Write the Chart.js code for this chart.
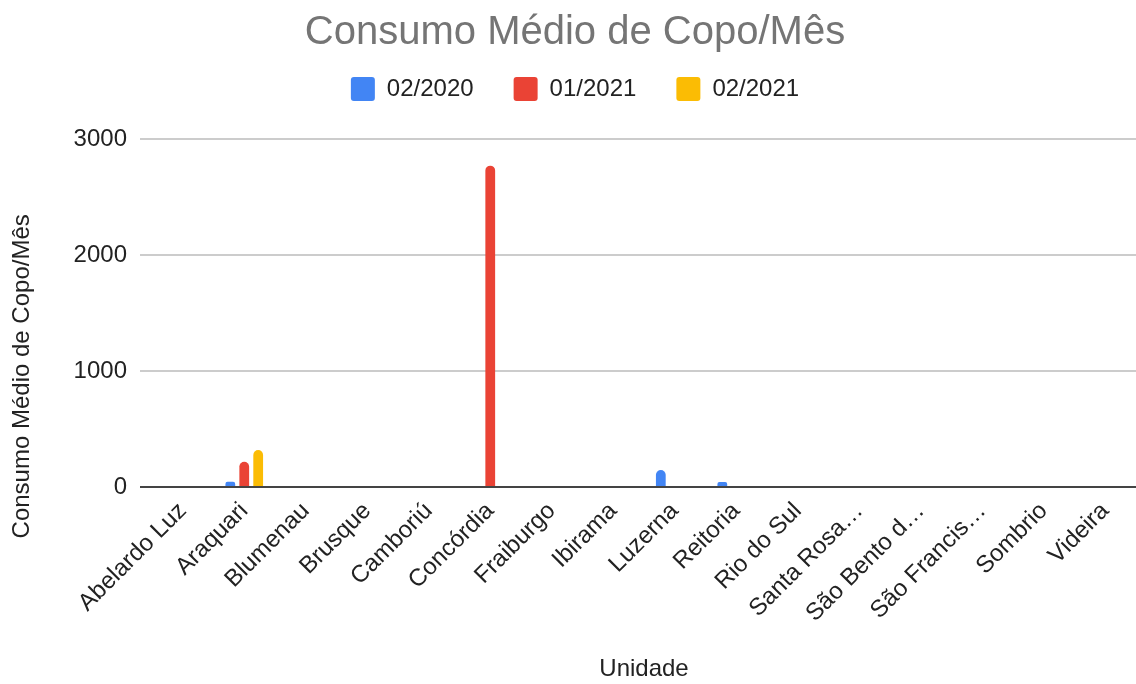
<!DOCTYPE html>
<html>
<head>
<meta charset="utf-8">
<script src="https://cdn.jsdelivr.net/npm/chart.js@4/dist/chart.umd.min.js"></script>
<style>
html,body{margin:0;padding:0;background:#fff;}
#wrap{width:1136px;height:684px;position:relative;}
</style>
</head>
<body>
<div id="wrap"><canvas id="c"></canvas></div>
<script>
const categories = ["Abelardo Luz","Araquari","Blumenau","Brusque","Camboriú","Concórdia","Fraiburgo","Ibirama","Luzerna","Reitoria","Rio do Sul","Santa Rosa…","São Bento d…","São Francis…","Sombrio","Videira"];
const seriesNames = ["02/2020","01/2021","02/2021"];
const values_02_2020 = [0, 45, 0, 0, 0, 0, 0, 0, 147, 43, 0, 0, 0, 0, 0, 0];
const values_01_2021 = [0, 218, 0, 0, 0, 2770, 0, 0, 0, 0, 0, 0, 0, 0, 0, 0];
const values_02_2021 = [0, 319, 0, 0, 0, 0, 0, 0, 0, 0, 0, 0, 0, 0, 0, 0];
const yTicks = [0, 1000, 2000, 3000];
const colors = ["#4285F4", "#EA4335", "#FBBC04"];

const FONT = "'Liberation Sans', Arial, sans-serif";
Chart.defaults.font.family = FONT;
Chart.defaults.color = "#222222";

const seriesValues = [values_02_2020, values_01_2021, values_02_2021];
const datasets = seriesNames.map((n, i) => ({
  label: n,
  data: seriesValues[i],
  backgroundColor: colors[i],
  borderRadius: {topLeft: 5, topRight: 5, bottomLeft: 0, bottomRight: 0},
  borderSkipped: 'bottom',
  categoryPercentage: 0.68,
  barPercentage: 0.7
}));

// trailing no-break spaces shift the centred vertical title toward the bottom, as in the reference
const yTitleText = "Consumo Médio de Copo/Mês" + "\u00A0".repeat(19);

new Chart(document.getElementById('c'), {
  type: 'bar',
  data: { labels: categories, datasets },
  options: {
    responsive: true,
    maintainAspectRatio: false,
    animation: false,
    layout: { padding: { left: 14, right: 0, top: 9, bottom: 0 } },
    plugins: {
      title: {
        display: true,
        text: "Consumo Médio de Copo/Mês",
        color: "#757575",
        font: { size: 40, weight: 'normal', family: FONT },
        padding: { top: 0, bottom: -20 }
      },
      subtitle: {
        display: true,
        text: " ",
        weight: 500,
        font: { size: 10 },
        padding: { top: 8, bottom: 8 }
      },
      legend: {
        display: true,
        position: 'top',
        labels: {
          boxWidth: 24, boxHeight: 24,
          useBorderRadius: true, borderRadius: 3,
          padding: 40,
          color: "#222222",
          font: { size: 24, family: FONT }
        }
      },
      tooltip: { enabled: false }
    },
    scales: {
      x: {
        afterFit: (s) => { s.height = 197; },
        grid: { display: false, drawTicks: false },
        border: { display: false },
        ticks: {
          minRotation: 45, maxRotation: 45,
          autoSkip: false,
          padding: 10,
          color: "#222222",
          font: { size: 24, family: FONT }
        },
        title: {
          display: true, text: "Unidade",
          color: "#222222",
          font: { size: 24, family: FONT },
          padding: { top: 0, bottom: 0 }
        }
      },
      y: {
        min: 0, max: 3000,
        afterFit: (s) => { s.width = 138; },
        afterBuildTicks: (s) => { s.ticks = yTicks.map(v => ({ value: v })); },
        grid: {
          color: (ctx) => ctx.tick && ctx.tick.value === 0 ? "#444444" : "#cccccc",
          lineWidth: 2,
          tickLength: 12,
          drawTicks: true
        },
        border: { display: false },
        ticks: {
          padding: 13,
          color: "#222222",
          font: { size: 24, family: FONT },
          callback: (v) => String(v)
        },
        title: {
          display: true, text: yTitleText,
          color: "#222222",
          font: { size: 24, family: FONT },
          padding: { top: -6, bottom: 0 }
        }
      }
    }
  }
});
</script>
</body>
</html>
